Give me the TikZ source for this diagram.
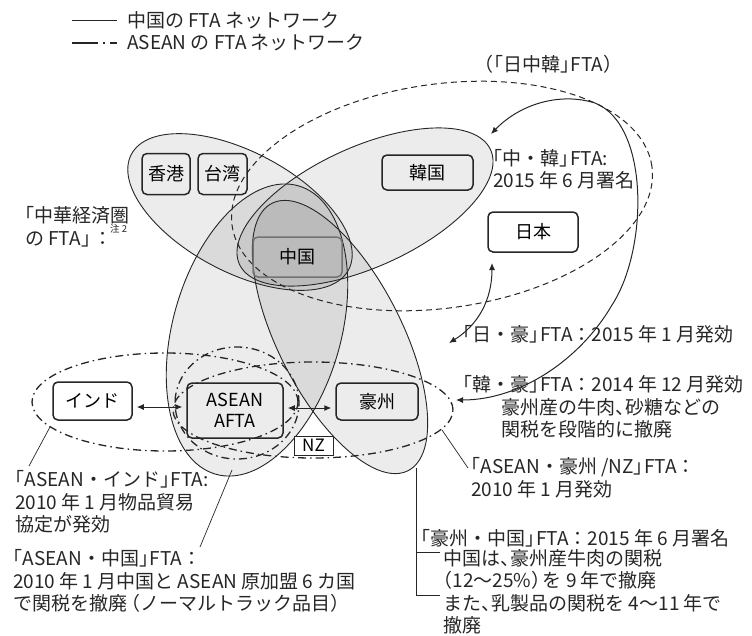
\documentclass[tikz,border=0pt]{standalone}
\usepackage{fontspec}
\setmainfont{Noto Sans CJK JP}
\usetikzlibrary{arrows.meta}
\newcommand\lbk{\kern-0.5em「}
\newcommand\rbk{」\kern-0.45em}
\newcommand\lpar{\kern-0.5em（}
\newcommand\rpar{）\kern-0.4em}
\newcommand\tou{、\kern-0.45em}
\begin{document}
\begin{tikzpicture}[x=1pt,y=-1pt,
  box/.style={draw=black!85, rounded corners=5pt, line width=1.5pt, inner sep=0pt, font=\fontsize{18}{18}\selectfont},
  txt/.style={font=\fontsize{19}{22.5}\selectfont, inner sep=0pt, anchor=west, align=left, text=black!85},
  ell/.style={line width=0.9pt, draw=black!85},
  shade/.style={fill=black, fill opacity=0.075},
  dashdot/.style={line width=1.3pt, draw=black!85, dash pattern=on 8pt off 4pt on 1.5pt off 4pt},
  jckdash/.style={line width=1pt, draw=black!85, dash pattern=on 6pt off 4pt},
  arr/.style={line width=1pt, draw=black!85, {Latex[length=7pt,width=6pt]}-{Latex[length=7pt,width=6pt]}},
  ptr/.style={line width=0.7pt, draw=black!85},
]
\useasboundingbox (0,0) rectangle (752,635);

% shaded ellipses (China FTA network)
\fill[shade, rotate around={-28:(240,212)}] (240,212) ellipse [x radius=123pt, y radius=60pt];
\fill[shade, rotate around={24.5:(365,207)}] (365,207) ellipse [x radius=138pt, y radius=60pt];
\fill[shade, rotate around={74:(257,330)}] (257,330) ellipse [x radius=150pt, y radius=84pt];
\fill[shade, rotate around={-63:(340,337)}] (340,337) ellipse [x radius=150pt, y radius=62pt];
\draw[ell, rotate around={-28:(240,212)}] (240,212) ellipse [x radius=123pt, y radius=60pt];
\draw[ell, rotate around={24.5:(365,207)}] (365,207) ellipse [x radius=138pt, y radius=60pt];
\draw[ell, rotate around={74:(257,330)}] (257,330) ellipse [x radius=150pt, y radius=84pt];
\draw[ell, rotate around={-63:(340,337)}] (340,337) ellipse [x radius=150pt, y radius=62pt];

% JCK dashed ellipse
\draw[jckdash, rotate around={8:(442,196)}] (442,196) ellipse [x radius=212pt, y radius=112pt];

% ASEAN network dash-dot ellipses
\draw[dashdot] (165,402) ellipse [x radius=133pt, y radius=49pt];
\draw[dashdot] (313,410) ellipse [x radius=140pt, y radius=48pt];
\draw[dashdot] (237,403) ellipse [x radius=62pt, y radius=56pt];

% boxes
\node[box, minimum width=48pt, minimum height=41pt] (hk) at (166,174) {香港};
\node[box, minimum width=49pt, minimum height=41pt] (tw) at (222.5,174) {台湾};
\node[box, minimum width=91pt, minimum height=35pt] (kr) at (427.5,172.5) {韓国};
\node[box, draw=black!55, minimum width=89pt, minimum height=40pt] (cn) at (297.5,257) {中国};
\node[box, fill=white, minimum width=90pt, minimum height=40pt] (jp) at (533,232) {日本};
\node[box, fill=white, minimum width=79pt, minimum height=38pt] (in) at (92.5,401) {インド};
\node[box, minimum width=96pt, minimum height=55pt, align=center, font=\fontsize{18}{21}\selectfont] (as) at (235,410.5) {ASEAN\\AFTA};
\node[box, minimum width=82pt, minimum height=37pt] (au) at (377,401.5) {豪州};
\node[draw=black!85, line width=1pt, inner sep=0pt, minimum width=39pt, minimum height=19pt, fill=white, font=\fontsize{17}{17}\selectfont] (nz) at (313.5,445.5) {NZ};

% straight arrows
\draw[arr, shorten <=4pt, shorten >=4pt] (in.east |- 0,407) -- (as.west |- 0,407);
\draw[arr, shorten <=4pt, shorten >=4pt] (as.east |- 0,408) -- (au.west |- 0,408);

% curved arrows
\coordinate (krtip) at (491,134);
\coordinate (autip) at (456,400);
\draw[arr] (krtip) .. controls (520,104) and (560,92) .. (595,103)
  .. controls (650,125) and (648,250) .. (612,305)
  .. controls (580,360) and (520,400) .. (autip);
\coordinate (jptip) at (492,263);
\coordinate (autip2) at (449,343);
\draw[arr] (jptip) .. controls (492,300) and (478,325) .. (autip2);

% legend
\coordinate (l1a) at (72,20); \coordinate (l1b) at (117,20);
\coordinate (l2a) at (72,43); \coordinate (l2b) at (117,43);
\draw[line width=1pt, black!85] (l1a) -- (l1b);
\draw[line width=1.3pt, black!85, dash pattern=on 26pt off 5pt on 2pt off 5pt on 8pt] (l2a) -- (l2b);
\node[txt] (lg1) at (127,20) {中国の FTA ネットワーク};
\node[txt] (lg2) at (127,43) {ASEAN の FTA ネットワーク};

% labels
\node[txt] (jck) at (484,64) {\lpar\kern-0.5em「日中韓\rbk FTA）};
\node[txt] (ckl) at (493,169) {\lbk 中・韓\rbk FTA:\\2015 年 6 月署名};
\node[txt] (gcl) at (25,227) {\lbk 中華経済圏\\の FTA\rbk\kern0.1em：};
\node[font=\fontsize{9.5}{9.5}\selectfont, inner sep=0pt, anchor=west, text=black!85] (note) at (110,229) {注 2};
\node[txt] (jal) at (463,334) {\lbk 日・豪\rbk FTA：2015 年 1 月発効};
\node[txt] (kal) at (463,407) {\lbk 韓・豪\rbk FTA：2014 年 12 月発効\\\hspace{2em}豪州産の牛肉\tou 砂糖などの\\\hspace{2em}関税を段階的に撤廃};
\node[txt] (anl) at (471,478) {\lbk ASEAN・豪州 /NZ\rbk FTA：\\2010 年 1 月発効};
\node[txt] (ail) at (15,502) {\lbk ASEAN・インド\rbk FTA:\\2010 年 1 月物品貿易\\協定が発効};
\node[txt] (acl) at (13,581) {\lbk ASEAN・中国\rbk FTA：\\2010 年 1 月中国と ASEAN 原加盟 6 カ国\\で関税を撤廃\kern-0.3em（ノーマルトラック品目）};
\node[txt] (acn) at (421,538) {\lbk 豪州・中国\rbk FTA：2015 年 6 月署名};
\node[txt] (acn2) at (443,592) {中国は\tou 豪州産牛肉の関税\\\lpar 12〜25\%\rpar を 9 年で撤廃\\また\tou 乳製品の関税を 4〜11 年で\\撤廃};

% pointer lines
\coordinate (p1a) at (50,427); \coordinate (p1b) at (29,466);
\draw[ptr] (p1a) -- (p1b);
\coordinate (p2a) at (232,470); \coordinate (p2b) at (200,547);
\draw[ptr] (p2a) -- (p2b);
\coordinate (p3a) at (442,430); \coordinate (p3b) at (468,468);
\draw[ptr] (p3a) -- (p3b);
\coordinate (b0) at (416,468); \coordinate (b1) at (416,595); \coordinate (b2) at (440,595);
\coordinate (b3) at (416,552); \coordinate (b4) at (440,552);
\draw[ptr] (b0) -- (b1) -- (b2);
\draw[ptr] (b3) -- (b4);
\end{tikzpicture}
\end{document}
